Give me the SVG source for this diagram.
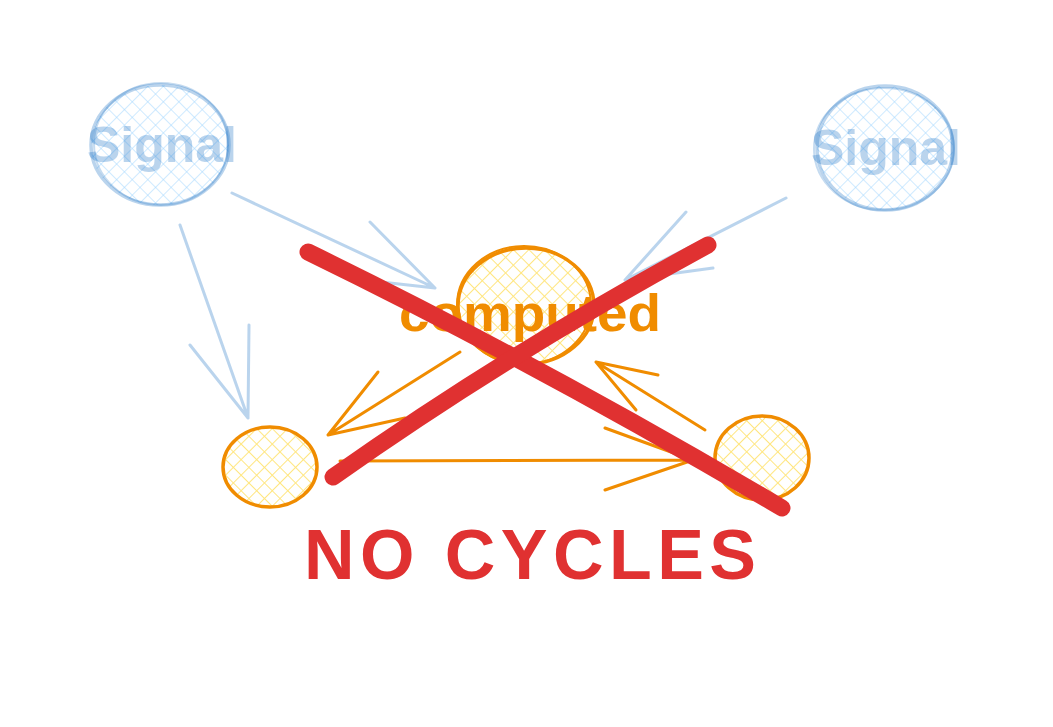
<svg xmlns="http://www.w3.org/2000/svg" width="1053" height="727" viewBox="0 0 1053 727">
<defs>
<pattern id="hb" patternUnits="userSpaceOnUse" width="11" height="11" patternTransform="rotate(45)">
<line x1="0" y1="0" x2="0" y2="11" stroke="#a5d8ff" stroke-width="1.8" opacity="0.6"/>
<line x1="0" y1="0" x2="11" y2="0" stroke="#a5d8ff" stroke-width="1.8" opacity="0.6"/>
</pattern>
<pattern id="hy" patternUnits="userSpaceOnUse" width="11" height="11" patternTransform="rotate(45)">
<line x1="0" y1="0" x2="0" y2="11" stroke="#ffe680" stroke-width="2"/>
<line x1="0" y1="0" x2="11" y2="0" stroke="#ffe680" stroke-width="2"/>
</pattern>
<style>
.sig{fill:url(#hb);stroke:#1971c2;stroke-opacity:0.3;stroke-width:3.5}
.sig2{fill:none;stroke:#1971c2;stroke-opacity:0.25;stroke-width:2}
.cmp{fill:url(#hy);stroke:#f08c00;stroke-width:3.5}
.cmp2{fill:none;stroke:#f08c00;stroke-width:2}
.st{font-family:"Liberation Sans",Arial,sans-serif;font-weight:bold;font-size:50px;fill:#1971c2;fill-opacity:0.3;text-anchor:middle}
.ct{font-family:"Liberation Sans",Arial,sans-serif;font-weight:bold;font-size:52px;fill:#f08c00;text-anchor:middle}
.ba{fill:none;stroke:#1971c2;stroke-opacity:0.3;stroke-width:3;stroke-linecap:round}
.oa{fill:none;stroke:#f08c00;stroke-width:3;stroke-linecap:round}
.x{fill:none;stroke:#e03131;stroke-width:17;stroke-linecap:round}
.nc{font-family:"Liberation Sans",Arial,sans-serif;font-weight:bold;font-size:70px;fill:#e03131}
</style>
</defs>
<rect width="1053" height="727" fill="#ffffff"/>
<g id="signal1">
<ellipse class="sig" cx="160" cy="145" rx="69" ry="60"/>
<ellipse class="sig2" cx="161" cy="144" rx="67" ry="61"/>
<text class="st" x="162" y="162" textLength="150" lengthAdjust="spacingAndGlyphs">Signal</text>
</g>
<g id="signal2">
<ellipse class="sig" cx="885" cy="148" rx="68" ry="62"/>
<ellipse class="sig2" cx="884" cy="149" rx="70" ry="61"/>
<text class="st" x="886" y="165" textLength="150" lengthAdjust="spacingAndGlyphs">Signal</text>
</g>
<g id="computed">
<ellipse class="cmp" cx="526" cy="306" rx="68" ry="58"/>
<ellipse class="cmp2" cx="524" cy="305" rx="67" ry="59"/>
<text class="ct" x="530" y="331" textLength="262" lengthAdjust="spacingAndGlyphs">computed</text>
</g>
<g id="left">
<ellipse class="cmp" cx="270" cy="467" rx="47" ry="40"/>
</g>
<g id="right">
<ellipse class="cmp" cx="762" cy="458" rx="47" ry="42"/>
</g>
<g id="connectors">
<path class="ba" d="M232 193 L435 288 M370 222 L435 288 M372 281 L435 288"/>
<path class="ba" d="M180 225 L248 418 M190 345 L248 418 M249 325 L248 418"/>
<path class="ba" d="M786 198 L625 280 M686 212 L625 280 M713 268 L625 280"/>
<path class="oa" d="M460 352 L328 435 M378 372 L328 435 M405 418 L328 435"/>
<path class="oa" d="M705 430 L596 362 M658 375 L596 362 M636 410 L596 362"/>
<path class="oa" d="M340 461 L693 460 M605 428 L693 460 M605 490 L693 460"/>
</g>
<g id="cross">
<path class="x" d="M308 252 Q 540 365 782 508"/>
<path class="x" d="M333 477 Q 510 352 708 245"/>
</g>
<text class="nc" x="304" y="579" textLength="452" lengthAdjust="spacing">NO CYCLES</text>
</svg>
